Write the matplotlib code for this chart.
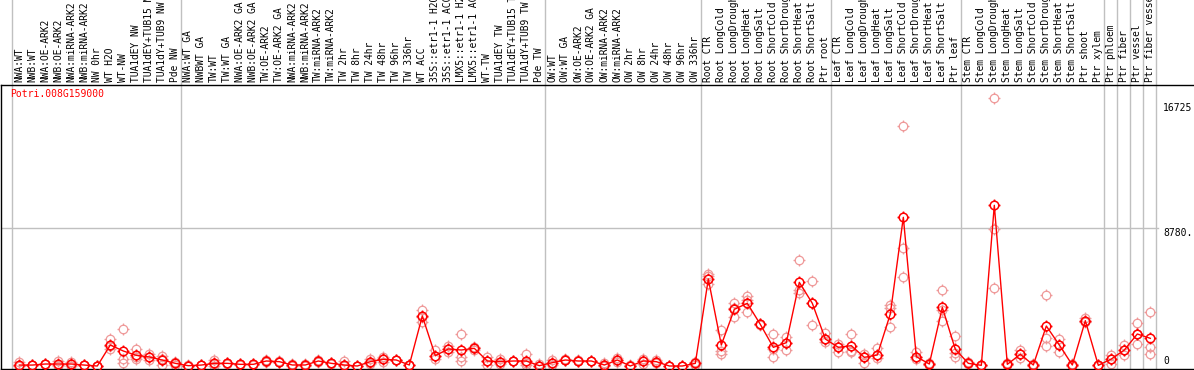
import matplotlib
matplotlib.use("Agg")
import matplotlib.pyplot as plt
import matplotlib.transforms as mtransforms
from matplotlib.path import Path
import numpy as np

# sample names, in plot order
samples = [
    "NWA:WT", "NWB:WT", "NWA:OE-ARK2", "NWB:OE-ARK2", "NWA:miRNA-ARK2", "NWB:miRNA-ARK2",
    "NW 0hr", "WT H2O", "WT-NW", "TUA1dEY NW", "TUA1dEY+TUB15 NW", "TUA1dY+TUB9 NW", "Pde NW",
    "NWA:WT GA", "NWBWT GA", "TW:WT", "TW:WT GA", "NWA:OE-ARK2 GA", "NWB:OE-ARK2 GA",
    "TW:OE-ARK2", "TW:OE-ARK2 GA", "NWA:miRNA-ARK2", "NWB:miRNA-ARK2", "TW:miRNA-ARK2",
    "TW:miRNA-ARK2", "TW 2hr", "TW 8hr", "TW 24hr", "TW 48hr", "TW 96hr", "TW 336hr", "WT ACC",
    "35S::etr1-1 H2O", "35S::etr1-1 ACC", "LMX5::etr1-1 H2O", "LMX5::etr1-1 ACC", "WT-TW",
    "TUA1dEY TW", "TUA1dEY+TUB15 TW", "TUA1dY+TUB9 TW", "Pde TW",
    "OW:WT", "OW:WT GA", "OW:OE-ARK2", "OW:OE-ARK2 GA", "OW:miRNA-ARK2", "OW:miRNA-ARK2",
    "OW 2hr", "OW 8hr", "OW 24hr", "OW 48hr", "OW 96hr", "OW 336hr",
    "Root CTR", "Root LongCold", "Root LongDrought", "Root LongHeat", "Root LongSalt",
    "Root ShortCold", "Root ShortDrought", "Root ShortHeat", "Root ShortSalt", "Ptr root",
    "Leaf CTR", "Leaf LongCold", "Leaf LongDrought", "Leaf LongHeat", "Leaf LongSalt",
    "Leaf ShortCold", "Leaf ShortDrought", "Leaf ShortHeat", "Leaf ShortSalt", "Ptr leaf",
    "Stem CTR", "Stem LongCold", "Stem LongDrought", "Stem LongHeat", "Stem LongSalt",
    "Stem ShortCold", "Stem ShortDrought", "Stem ShortHeat", "Stem ShortSalt", "Ptr shoot",
    "Ptr xylem", "Ptr phloem", "Ptr fiber", "Ptr vessel", "Ptr fiber vessel",
]

# how many samples sit in each block between the grey separators
group_sizes = [13, 28, 12, 10, 10, 11, 1, 1, 1, 1]

# mean expression per sample
means = [
    60, 60, 127, 127, 127, 60, 0, 1336, 954, 679, 573, 382, 170,
    20, 60, 170, 170, 106, 106, 318, 276, 64, 64, 318, 170, 64, 0, 276, 424, 382, 64,
    3181, 657, 1081, 1018, 1124, 318, 276, 318, 318, 20,
    212, 382, 318, 318, 64, 382, 0, 318, 276, 0, 0, 170,
    5535, 1336, 3605, 3989, 2651, 1188, 1485, 5323, 3989, 1718,
    1188, 1294, 551, 700, 3308, 9460, 594, 127, 3732, 1060,
    170, 42, 10224, 106, 742, 64, 2545, 1336, 64, 2884, 42,
    445, 1018, 2036, 1760,
]

# replicate values per sample
replicates = [
    [250, 30, 0], [60, 40, 80], [150, 110, 120], [320, 60, 0], [250, 130, 0],
    [60, 50, 70], [0, 10, 0], [1697, 1260, 1050], [2333, 424, 212], [1060, 550, 424],
    [763, 551, 382], [636, 424, 85], [250, 170, 90],
    [40, 20, 0], [80, 60, 40], [382, 100, 30], [200, 170, 140], [130, 106, 80],
    [130, 100, 90], [382, 318, 250], [320, 276, 230], [150, 64, 0], [100, 64, 30],
    [360, 318, 280], [212, 170, 130], [318, 64, 0], [30, 0, 0], [466, 212, 150],
    [551, 424, 276], [400, 382, 360], [90, 64, 40], [3563, 3139, 2821], [1018, 657, 466],
    [1300, 1060, 880], [2036, 593, 339], [1230, 1124, 1018], [551, 318, 64],
    [466, 276, 100], [340, 318, 300], [763, 212, 64], [150, 0, 0],
    [382, 212, 64], [420, 382, 350], [350, 318, 290], [340, 318, 300], [212, 64, 0],
    [488, 382, 276], [40, 0, 0], [424, 318, 127], [382, 276, 170], [20, 0, 0],
    [20, 0, 0], [250, 170, 90],
    [5853, 5747, 5217], [2290, 975, 763], [3989, 3690, 3139], [4453, 4200, 3457],
    [2700, 2650, 2580], [2036, 1100, 551], [1866, 1485, 1018], [6744, 4835, 4623],
    [5429, 3989, 2608], [2078, 1718, 1548],
    [1420, 1230, 912], [2036, 890, 950], [763, 551, 212], [1124, 700, 488],
    [3880, 3669, 2500], [15269, 7488, 5643], [912, 594, 424], [200, 127, 60],
    [4835, 3563, 2884], [1909, 806, 594],
    [250, 170, 100], [60, 42, 20], [17031, 8697, 4942], [170, 106, 60], [1018, 742, 488],
    [120, 64, 20], [4517, 1760, 1272], [1697, 1336, 912], [100, 64, 30], [3075, 2884, 2800],
    [60, 42, 20], [700, 445, 127], [1336, 1018, 700], [2757, 2036, 1400], [3435, 1188, 742],
]

gene = "Potri.008G159000"
ytick_values = [0, 8780, 16725]
ytick_labels = ["0", "8780.", "16725"]

# circle with four small ticks, like the eFP markers
circ = Path.unit_circle()
tick_verts = [(0, 1), (0, 1.4), (0, -1), (0, -1.4), (1, 0), (1.4, 0), (-1, 0), (-1.4, 0)]
tick_codes = [Path.MOVETO, Path.LINETO] * 4
marker_path = Path.make_compound_path(circ, Path(tick_verts, tick_codes))

mono = "DejaVu Sans Mono"

fig = plt.figure(figsize=(11.94, 3.70), dpi=100)
ax = fig.add_axes([1 / 1194, 1.5 / 370, 1193 / 1194, 283.5 / 370])

x = np.arange(len(samples))

# separators between groups
edges = np.concatenate([[0], np.cumsum(group_sizes)]) - 0.6
for e in edges:
    ax.axvline(e, ymin=0, ymax=1.31, color="#c0c0c0", lw=1, clip_on=False, zorder=0)

ax.axhline(ytick_values[1], xmin=0, xmax=0.97, color="#c0c0c0", lw=1, zorder=0)

# replicates
for i, reps in enumerate(replicates):
    ax.plot([x[i]] * len(reps), reps, linestyle="none", marker=marker_path,
            markersize=8.6, mfc="none", mec="#ef9a9a", mew=0.9, zorder=2)

# means
ax.plot(x, means, color="#ff0000", lw=1, marker=marker_path, markersize=8.6,
        mfc="none", mec="#ff0000", mew=1.1, zorder=3)

ax.set_xlim(-1.408, 90.36)
ax.set_ylim(-159, 17877)
ax.set_xticks([])
ax.set_yticks([])
ax.spines["right"].set_visible(False)
for s in ["left", "top", "bottom"]:
    ax.spines[s].set_color("black")
    ax.spines[s].set_linewidth(1.0)

# sample labels above the plot
trans = mtransforms.blended_transform_factory(ax.transData, ax.transAxes)
lab_trans = mtransforms.offset_copy(trans, fig=fig, y=3, units="dots")
for i, name in enumerate(samples):
    ax.text(x[i], 1.0, name, transform=lab_trans, rotation=90, ha="center",
            va="bottom", fontsize=6.9, family=mono, color="black", clip_on=False)

# gene name
ax.text(0.0075, 0.985, gene, transform=ax.transAxes, ha="left", va="top",
        fontsize=7, family=mono, color="#ff0000")

# value labels on the right
ytrans = mtransforms.blended_transform_factory(ax.transAxes, ax.transData)
for v, t in zip(ytick_values, ytick_labels):
    ax.text(0.974, v, t, transform=ytrans, ha="left",
            va="bottom" if v == 0 else "top", fontsize=7, family=mono, color="black")

fig.savefig("out.png", dpi=100)
